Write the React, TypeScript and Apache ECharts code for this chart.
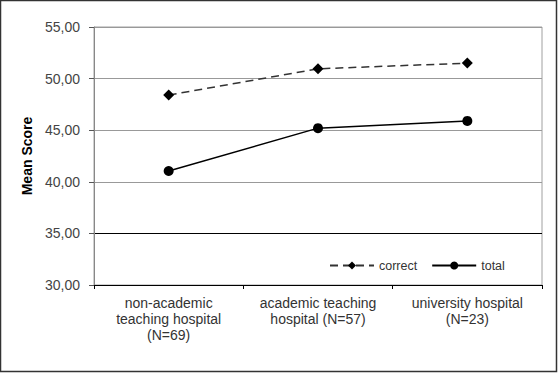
import React, { useEffect, useRef } from "react";
import * as echarts from "echarts";

const categories = [
  "non-academic\nteaching hospital\n(N=69)",
  "academic teaching\nhospital (N=57)",
  "university hospital\n(N=23)",
];
const correctValues = [48.4, 50.95, 51.5];
const totalValues = [41.05, 45.2, 45.9];
const yMin = 30;
const yMax = 55;
const yInterval = 5;

export default function App() {
  const ref = useRef<HTMLDivElement>(null);
  useEffect(() => {
    const chart = echarts.init(ref.current!, undefined, { renderer: "svg" });
    const font = "Liberation Sans, Arial, sans-serif";
    chart.setOption({
      animation: false,
      backgroundColor: "#fff",
      grid: {
        left: 94,
        top: 27,
        right: 16,
        bottom: 88,
        show: true,
        borderColor: "#a0a0a0",
        borderWidth: 1,
      },
      graphic: [
        {
          type: "rect",
          shape: { x: 0.5, y: 0.5, width: 556, height: 371 },
          style: { fill: "none", stroke: "#333", lineWidth: 1.5 },
          silent: true,
        },
      ],
      legend: {
        left: 324,
        top: 254,
        itemWidth: 44,
        itemHeight: 10,
        itemGap: 14,
        textStyle: { fontFamily: font, fontSize: 12.5, color: "#333" },
        data: ["correct", "total"],
      },
      xAxis: {
        type: "category",
        data: categories,
        boundaryGap: true,
        axisLine: { lineStyle: { color: "#000", width: 1 } },
        axisTick: { show: true, length: 4, lineStyle: { color: "#000" } },
        axisLabel: {
          fontFamily: font,
          fontSize: 14,
          color: "#333",
          lineHeight: 16,
          margin: 10,
          interval: 0,
        },
      },
      yAxis: {
        type: "value",
        min: yMin,
        max: yMax,
        interval: yInterval,
        name: "Mean Score",
        nameLocation: "middle",
        nameGap: 60,
        nameTextStyle: { fontFamily: font, fontSize: 14, fontWeight: "bold", color: "#000" },
        axisLine: { show: true, lineStyle: { color: "#888" } },
        axisTick: { show: true, length: 5, lineStyle: { color: "#555" } },
        axisLabel: {
          fontFamily: font,
          fontSize: 14,
          color: "#444",
          margin: 14,
          formatter: (v: number) => v.toFixed(2).replace(".", ","),
        },
        splitLine: {
          show: true,
          lineStyle: { color: ["#000", "#000", "#999", "#999", "#999", "#999"], width: 1 },
        },
      },
      series: [
        {
          name: "correct",
          type: "line",
          data: correctValues,
          symbol: "diamond",
          symbolSize: 11,
          itemStyle: { color: "#000" },
          lineStyle: { color: "#333", width: 1.5, type: [8, 5] },
        },
        {
          name: "total",
          type: "line",
          data: totalValues,
          symbol: "circle",
          symbolSize: 10,
          itemStyle: { color: "#000" },
          lineStyle: { color: "#000", width: 1.5, type: "solid" },
        },
      ],
    });
    return () => chart.dispose();
  }, []);
  return (
    <div
      ref={ref}
      style={{ position: "fixed", left: 0, top: 0, width: 558, height: 373 }}
    />
  );
}
